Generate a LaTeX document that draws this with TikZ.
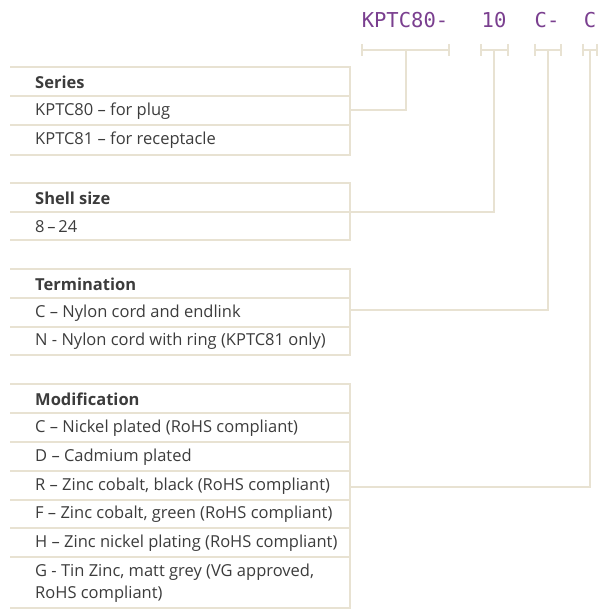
\documentclass[tikz,border=0pt]{standalone}
\usepackage{fontspec}
\setmainfont{Open Sans}
\newfontfamily\codefont{DejaVu Sans Mono}
\usepackage{xcolor}
\usetikzlibrary{positioning}
\definecolor{rulecol}{HTML}{E8E2D2}
\definecolor{codecol}{HTML}{7A3F8F}
\definecolor{textcol}{HTML}{3C3C3C}

\begin{document}
\begin{tikzpicture}[x=1pt,y=-1pt,
    outer/.style={draw=rulecol,line width=2pt},
    inner/.style={draw=rulecol,line width=1.2pt},
    head/.style={anchor=west,inner sep=0pt,text=textcol,font=\fontsize{16.5}{21}\selectfont\bfseries},
    item/.style={anchor=west,inner sep=0pt,text=textcol,font=\fontsize{16.5}{21.5}\selectfont},
    code/.style={inner sep=0pt,text=codecol,font=\codefont\fontsize{20.5}{24}\selectfont}]
  \useasboundingbox (0,0) rectangle (610,610);

  % order code
  \node[code] (c1) at (405,20) {KPTC80-};
  \node[code] (c2) at (494,20) {10};
  \node[code] (c3) at (547,20) {C-};
  \node[code] (c4) at (590,20) {C};

  % brackets under the code
  \draw[outer] (362,44)--(362,56) (362,50)--(449,50) (449,44)--(449,56);
  \draw[outer] (481,44)--(481,56) (481,50)--(508,50) (508,44)--(508,56);
  \draw[outer] (535,44)--(535,56) (535,50)--(561,50) (561,44)--(561,56);
  \draw[outer] (583,44)--(583,56) (583,50)--(597,50) (597,44)--(597,56);
  \coordinate (s1) at (406,50);
  \coordinate (s2) at (494,50);
  \coordinate (s3) at (548,50);
  \coordinate (s4) at (590,50);

  % series
  \draw[outer] (10,67)--(350,67)--(350,155)--(10,155);
  \draw[inner] (10,96)--(350,96) (10,125)--(350,125);
  \node[head] (ser) at (35,82) {Series};
  \node[item] (ser1) at (35,111) {KPTC80 – for plug};
  \node[item] (ser2) at (35,140) {KPTC81 – for receptacle};
  \coordinate (e1) at (350,110);

  % shell size
  \draw[outer] (10,183)--(350,183)--(350,240)--(10,240);
  \draw[inner] (10,212)--(350,212);
  \node[head] (shl) at (35,198) {Shell size};
  \node[item] (shl1) at (35,227) {8\,–\,24};
  \coordinate (e2) at (350,212);

  % termination
  \draw[outer] (10,269)--(350,269)--(350,355)--(10,355);
  \draw[inner] (10,298)--(350,298) (10,327)--(350,327);
  \node[head] (trm) at (35,284) {Termination};
  \node[item] (trm1) at (35,313) {C – Nylon cord and endlink};
  \node[item] (trm2) at (35,341) {N - Nylon cord with ring (KPTC81 only)};
  \coordinate (e3) at (350,310);

  % modification
  \draw[outer] (10,384)--(350,384)--(350,608)--(10,608);
  \foreach \y in {413,442,471,500,528,557}
    \draw[inner] (10,\y)--(350,\y);
  \node[head] (mod) at (35,399) {Modification};
  \node[item] (mod1) at (35,428) {C – Nickel plated (RoHS compliant)};
  \node[item] (mod2) at (35,457) {D – Cadmium plated};
  \node[item] (mod3) at (35,486) {R – Zinc cobalt, black (RoHS compliant)};
  \node[item] (mod4) at (35,514) {F – Zinc cobalt, green (RoHS compliant)};
  \node[item] (mod5) at (35,543) {H – Zinc nickel plating (RoHS compliant)};
  \node[item,align=left] (mod6) at (35,583) {G - Tin Zinc, matt grey (VG approved,\\RoHS compliant)};
  \coordinate (e4) at (350,487);

  % connectors
  \draw[outer] (e1) -| (s1);
  \draw[outer] (e2) -| (s2);
  \draw[outer] (e3) -| (s3);
  \draw[outer] (e4) -| (s4);
\end{tikzpicture}
\end{document}
